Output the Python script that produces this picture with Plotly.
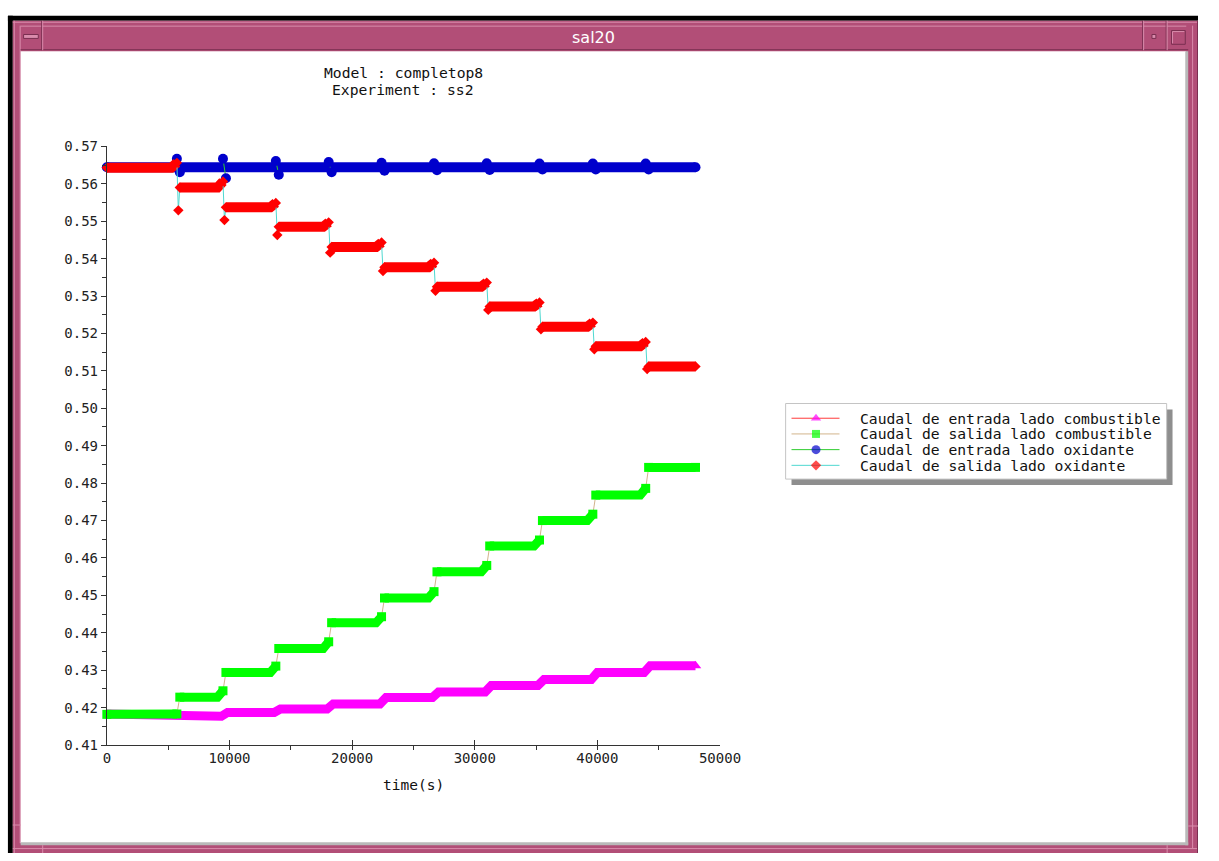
import plotly.graph_objects as go

# ---------------------------------------------------------------- data
# times (s) at which the operating point changes
step_times = [5830, 9590, 13900, 18210, 22520, 26800, 31100, 35400, 39750, 44060]
t_first, t_last = 0, 48000

# Caudal de entrada lado combustible: plateau levels
fuel_in_levels = [0.4183, 0.4177, 0.4187, 0.4196, 0.4210, 0.4227,
                  0.4242, 0.4259, 0.4275, 0.4294, 0.4312]

# Caudal de salida lado combustible: plateau levels and value reached just before each step
fuel_out_levels = [0.4182, 0.4228, 0.4294, 0.4358, 0.4427, 0.4493,
                   0.4563, 0.4632, 0.4700, 0.4768, 0.4842]
fuel_out_peaks = [0.4183, 0.4245, 0.4311, 0.4376, 0.4443, 0.4510,
                  0.4580, 0.4648, 0.4717, 0.4786]

# Caudal de entrada lado oxidante: plateau levels, overshoot before and undershoot after each step
ox_in_levels = [0.5644, 0.5644, 0.5644, 0.5644, 0.5644, 0.5644,
                0.5644, 0.5644, 0.5644, 0.5644, 0.5644]
ox_in_peaks = [0.5667, 0.5667, 0.5661, 0.5658, 0.5656, 0.5655,
               0.5655, 0.5654, 0.5654, 0.5654]
ox_in_dips = [0.5631, 0.5615, 0.5624, 0.5631, 0.5635, 0.5636,
              0.5637, 0.5638, 0.5638, 0.5638]

# Caudal de salida lado oxidante: plateau levels, value before each step, transient minimum
ox_out_levels = [0.5643, 0.5590, 0.5537, 0.5485, 0.5431, 0.5377,
                 0.5325, 0.5272, 0.5218, 0.5166, 0.5112]
ox_out_peaks = [0.5656, 0.5606, 0.5549, 0.5497, 0.5443, 0.5389,
                0.5336, 0.5283, 0.5229, 0.5177]
ox_out_dips = [0.5529, 0.5503, 0.5463, 0.5416, 0.5367, 0.5314,
               0.5263, 0.5211, 0.5158, 0.5105]

series_names = ["Caudal de entrada lado combustible",
                "Caudal de salida lado combustible",
                "Caudal de entrada lado oxidante",
                "Caudal de salida lado oxidante"]

x_ticks_range = [0, 50000]
y_ticks_range = [0.41, 0.57]

# ---------------------------------------------------------------- styling
W, H = 1219, 861
MONO = "DejaVu Sans Mono"
C_MAGENTA, C_LIME, C_BLUE, C_RED = "#FF00FF", "#00FF00", "#0000CC", "#FF0000"
L_RED, L_TAN, L_GREEN, L_CYAN = "#FF3A3A", "#D2B48C", "#2ECC2E", "#4FD8D0"
PINK, PINK_LIGHT, PINK_DARK = "#B24E77", "#D98CAC", "#7A2F51"

gap = 120        # half-width of a step transition (s)
ramp = 450       # length of the pre-step rise on a plateau (s)
in_ramp = 250    # half-width of the inlet-flow ramps (s)

starts = [t_first] + [s + gap for s in step_times]
ends = [s - gap for s in step_times] + [t_last]

fig = go.Figure()


def band_with_rise(levels, peaks):
    xs, ys = [], []
    for i, lev in enumerate(levels):
        if i < len(peaks):
            xs += [starts[i], ends[i] - ramp, ends[i], None]
            ys += [lev, lev, peaks[i], None]
        else:
            xs += [starts[i], ends[i]]
            ys += [lev, lev]
    return xs, ys


def add_band(xs, ys, color, width):
    fig.add_trace(go.Scatter(x=xs, y=ys, mode="lines",
                             line=dict(color=color, width=width),
                             hoverinfo="skip", showlegend=False))


def add_points(xs, ys, line_color, symbol, color, size):
    fig.add_trace(go.Scatter(x=xs, y=ys, mode="lines+markers",
                             line=dict(color=line_color, width=1),
                             marker=dict(symbol=symbol, color=color, size=size,
                                         line=dict(width=0)),
                             cliponaxis=False, hoverinfo="skip", showlegend=False))


# --- entrada combustible (continuous band with short ramps)
xs, ys = [], []
for i, lev in enumerate(fuel_in_levels):
    a = t_first if i == 0 else step_times[i - 1] + in_ramp
    b = t_last if i == len(fuel_in_levels) - 1 else step_times[i] - in_ramp
    xs += [a, b]
    ys += [lev, lev]
add_band(xs, ys, C_MAGENTA, 9)
add_points([t_last], [fuel_in_levels[-1]], L_RED, "triangle-up", C_MAGENTA, 10)

# --- salida combustible
xs, ys = band_with_rise(fuel_out_levels, fuel_out_peaks)
add_band(xs, ys, C_LIME, 9)
px_, py_ = [t_first, None], [fuel_out_levels[0], None]
for k in range(len(step_times)):
    px_ += [ends[k], starts[k + 1], None]
    py_ += [fuel_out_peaks[k], fuel_out_levels[k + 1], None]
px_ += [t_last]
py_ += [fuel_out_levels[-1]]
add_points(px_, py_, L_TAN, "square", C_LIME, 9)

# --- entrada oxidante
xs, ys = [], []
for i, lev in enumerate(ox_in_levels):
    xs += [starts[i], ends[i]]
    ys += [lev, lev]
add_band(xs, ys, C_BLUE, 10)
px_, py_ = [t_first, None], [ox_in_levels[0], None]
for k in range(len(step_times)):
    px_ += [ends[k], starts[k + 1], None]
    py_ += [ox_in_peaks[k], ox_in_dips[k], None]
px_ += [t_last]
py_ += [ox_in_levels[-1]]
add_points(px_, py_, L_GREEN, "circle", C_BLUE, 10)

# --- salida oxidante
xs, ys = band_with_rise(ox_out_levels, ox_out_peaks)
add_band(xs, ys, C_RED, 10)
px_, py_ = [t_first, None], [ox_out_levels[0], None]
for k in range(len(step_times)):
    px_ += [ends[k], step_times[k], starts[k + 1], None]
    py_ += [ox_out_peaks[k], ox_out_dips[k], ox_out_levels[k + 1], None]
px_ += [t_last]
py_ += [ox_out_levels[-1]]
add_points(px_, py_, L_CYAN, "diamond", C_RED, 8)

# ---------------------------------------------------------------- legend (drawn by hand)
leg_rows = [418, 434, 450, 466]
leg_lines = [L_RED, L_TAN, L_GREEN, L_CYAN]
leg_symbols = ["triangle-up", "square", "circle", "diamond"]
leg_colors = [C_MAGENTA, C_LIME, C_BLUE, C_RED]
leg_sizes = [9, 8, 9, 8]

fig.add_trace(go.Scatter(x=[829] * 4, y=leg_rows, mode="markers",
                         marker=dict(symbol=leg_symbols, color=leg_colors,
                                     size=leg_sizes, line=dict(width=0)),
                         xaxis="x2", yaxis="y2", cliponaxis=False,
                         hoverinfo="skip", showlegend=False))


def rect(x0, y0, x1, y1, fill, line_color=None, lw=0):
    return dict(type="rect", xref="paper", yref="paper",
                x0=x0 / W, x1=x1 / W, y0=1 - y1 / H, y1=1 - y0 / H,
                fillcolor=fill, line=dict(width=lw, color=line_color or fill),
                layer="below")


def seg(x0, y0, x1, y1, color, w=1):
    return dict(type="line", xref="paper", yref="paper",
                x0=x0 / W, x1=x1 / W, y0=1 - y0 / H, y1=1 - y1 / H,
                line=dict(color=color, width=w), layer="below")


shapes = [
    # window frame
    rect(4, 8, W, 13, "#000000"),
    rect(4, 8, 9, H, "#000000"),
    rect(9, 13, W, H, PINK),
    seg(9, 14.5, W, 14.5, PINK_LIGHT),
    seg(10.5, 13, 10.5, H, PINK_LIGHT),
    seg(17, 18.5, 1207, 18.5, PINK_LIGHT),
    seg(16.5, 18, 16.5, 851, PINK_LIGHT),
    seg(17, 42.5, 1209, 42.5, PINK_DARK),
    seg(1213.5, 18, 1213.5, 856, PINK_LIGHT),
    seg(9, 856.5, W, 856.5, PINK_LIGHT),
    seg(W - 0.5, 13, W - 0.5, H, PINK_DARK),
    rect(17, 44, 1207, 851, "#FFFFFF"),
    rect(1206, 44, 1209, 853, "#B9B9B9"),
    rect(17, 850, 1209, 853, "#B9B9B9"),
    # title bar buttons
    seg(38.5, 13, 38.5, 43, PINK_DARK),
    seg(39.5, 13, 39.5, 43, PINK_LIGHT),
    rect(20, 27, 35, 31, PINK_LIGHT, PINK_DARK, 1),
    seg(1162.5, 13, 1162.5, 43, PINK_DARK),
    seg(1163.5, 13, 1163.5, 43, PINK_LIGHT),
    seg(1186.5, 13, 1186.5, 43, PINK_DARK),
    seg(1187.5, 13, 1187.5, 43, PINK_LIGHT),
    rect(1172, 27, 1176, 31, PINK_LIGHT, PINK_DARK, 1),
    rect(1192, 23, 1206, 37, PINK, PINK_DARK, 1),
    seg(1193, 24, 1205, 24, PINK_LIGHT),
    seg(1193, 24, 1193, 36, PINK_LIGHT),
    # resize corner marks
    seg(9, 832.5, 17, 832.5, PINK_LIGHT),
    seg(39.5, 853, 39.5, H, PINK_LIGHT),
    seg(1209, 833.5, W, 833.5, PINK_LIGHT),
    seg(1187.5, 853, 1187.5, H, PINK_LIGHT),
    # legend box with drop shadow
    rect(804, 409, 1193, 486, "#8E8E8E"),
    rect(798, 403, 1187, 480, "#FFFFFF", "#C4C4C4", 1),
]
for r, c in zip(leg_rows, leg_lines):
    shapes.append(seg(804, r, 853, r, c, 1))

annotations = [
    dict(text="sal20", x=602, y=30, font=dict(family="DejaVu Sans", size=16, color="#FFFFFF")),
    dict(text="Model : completop8", x=408, y=66, font=dict(family=MONO, size=14.7, color="#111111")),
    dict(text="Experiment : ss2", x=407, y=83, font=dict(family=MONO, size=14.7, color="#111111")),
    dict(text="time(s)", x=418, y=792, font=dict(family=MONO, size=14.5, color="#111111")),
]
for r, name in zip(leg_rows, series_names):
    annotations.append(dict(text=name, x=872, y=r, xanchor="left",
                            font=dict(family=MONO, size=14.7, color="#111111")))
for a in annotations:
    a.update(xref="x2", yref="y2", showarrow=False, yanchor="middle")
    a.setdefault("xanchor", "center")

axis_font = dict(family=MONO, size=14, color="#222222")
fig.update_layout(
    width=W, height=H,
    margin=dict(l=0, r=0, t=0, b=0),
    paper_bgcolor="#FFFFFF",
    plot_bgcolor="rgba(0,0,0,0)",
    showlegend=False,
    shapes=shapes,
    annotations=annotations,
    xaxis=dict(domain=[105 / W, 731 / W], range=x_ticks_range, anchor="y",
               dtick=10000, tick0=0, tickformat="d",
               showline=True, linecolor="#333333", linewidth=1,
               ticks="inside", ticklen=5, tickcolor="#333333",
               minor=dict(dtick=5000, ticks="outside", ticklen=4, tickcolor="#333333"),
               showgrid=False, zeroline=False, tickfont=axis_font, fixedrange=True),
    yaxis=dict(domain=[1 - 751 / H, 1 - 141 / H], range=y_ticks_range, anchor="x",
               dtick=0.01, tick0=0.41, tickformat=".2f",
               showline=True, linecolor="#333333", linewidth=1,
               ticks="outside", ticklen=5, tickcolor="#333333",
               minor=dict(dtick=0.005, ticks="outside", ticklen=4, tickcolor="#333333"),
               showgrid=False, zeroline=False, tickfont=axis_font, fixedrange=True),
    xaxis2=dict(domain=[0, 1], range=[0, W], anchor="y2", visible=False, fixedrange=True),
    yaxis2=dict(domain=[0, 1], range=[H, 0], anchor="x2", visible=False, fixedrange=True),
)

# the page body gets no default margin so the figure fills the window exactly
reset_margin = (
    "document.body.style.margin='0px';"
    "var st=document.createElement('style');"
    "st.textContent='html,body{margin:0!important;padding:0!important;overflow:hidden}';"
    "document.head.appendChild(st);"
)
fig.write_html("out.html", post_script=reset_margin)
